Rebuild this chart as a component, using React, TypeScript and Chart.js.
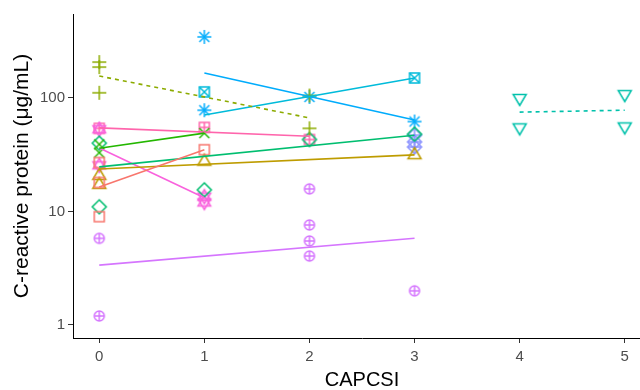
import React, { useEffect, useRef } from "react";
import { Chart, registerables } from "chart.js";
Chart.register(...registerables);

// ---------- data (CAPCSI, C-reactive protein µg/mL) ----------
const xTicks = [0, 1, 2, 3, 4, 5];
const yTicks = [1, 10, 100];

// shape 0: open square
const squareX = [0, 0, 0, 1];
const squareY = [9, 18, 27, 35];
const squareFitX = [0, 1];
const squareFitY = [16.4, 35];

// shape 2: triangle up
const triUpX = [0, 0, 1, 3];
const triUpY = [21, 17.5, 28, 32];
const triUpFitX = [0, 3];
const triUpFitY = [23.7, 31.5];

// shape 3: plus (dashed fit)
const plusX = [0, 0, 0, 2, 2];
const plusY = [207, 187, 111, 105, 54];
const plusFitX = [0, 2];
const plusFitY = [156, 66.7];

// shape 4: cross
const crossX = [0, 0, 1];
const crossY = [33, 39, 49];
const crossFitX = [0, 1];
const crossFitY = [36, 49];

// shape 5: diamond
const diamondX = [0, 0, 1, 2, 3];
const diamondY = [40, 11, 15.5, 43, 48];
const diamondFitX = [0, 3];
const diamondFitY = [24.7, 47];

// shape 6: triangle down (dashed fit)
const triDownX = [4, 4, 5, 5];
const triDownY = [98, 54, 106, 55];
const triDownFitX = [4, 5];
const triDownFitY = [75, 78];

// shape 7: square cross
const sqCrossX = [1, 3];
const sqCrossY = [113, 150];
const sqCrossFitX = [1, 3];
const sqCrossFitY = [70.8, 150];

// shape 8: asterisk
const asteriskX = [1, 1, 2, 3];
const asteriskY = [345, 78, 102, 62];
const asteriskFitX = [1, 3];
const asteriskFitY = [166, 64];

// shape 9: diamond plus
const diaPlusX = [3, 3, 3];
const diaPlusY = [47, 41, 37];

// shape 10: circle plus
const circPlusX = [0, 0, 2, 2, 2, 2, 3];
const circPlusY = [5.8, 1.2, 15.8, 7.6, 5.5, 4.05, 2.0];
const circPlusFitX = [0, 3];
const circPlusFitY = [3.37, 5.8];

// shape 11: star of David
const davidX = [0, 0, 1, 1];
const davidY = [53, 25.5, 13.5, 12];
const davidFitX = [0, 1];
const davidFitY = [36.3, 13.2];

// shape 12: square plus
const sqPlusX = [0, 1, 2];
const sqPlusY = [54, 55, 43];
const sqPlusFitX = [0, 2];
const sqPlusFitY = [54.5, 46];

const FONT = '"Liberation Sans", Arial, sans-serif';

function makeMarker(shape: string, color: string): HTMLCanvasElement {
  const S = 22;
  const c = document.createElement("canvas");
  c.width = S;
  c.height = S;
  const g = c.getContext("2d")!;
  g.strokeStyle = color;
  g.lineWidth = 1.5;
  g.translate(S / 2, S / 2);
  const line = (x1: number, y1: number, x2: number, y2: number) => {
    g.beginPath();
    g.moveTo(x1, y1);
    g.lineTo(x2, y2);
    g.stroke();
  };
  const poly = (pts: number[][]) => {
    g.beginPath();
    g.moveTo(pts[0][0], pts[0][1]);
    for (let i = 1; i < pts.length; i++) g.lineTo(pts[i][0], pts[i][1]);
    g.closePath();
    g.stroke();
  };
  const sq = (h: number) => g.strokeRect(-h, -h, 2 * h, 2 * h);
  const plus = (h: number) => {
    line(-h, 0, h, 0);
    line(0, -h, 0, h);
  };
  const xx = (h: number) => {
    line(-h, -h, h, h);
    line(-h, h, h, -h);
  };
  const triUp = () => poly([[0, -6.5], [6.5, 4.5], [-6.5, 4.5]]);
  const triDown = () => poly([[0, 6.5], [6.5, -4.5], [-6.5, -4.5]]);
  const diamond = () => poly([[0, -7], [7, 0], [0, 7], [-7, 0]]);
  switch (shape) {
    case "square": sq(5); break;
    case "triUp": triUp(); break;
    case "plus": plus(7); break;
    case "cross": xx(5); break;
    case "diamond": diamond(); break;
    case "triDown": triDown(); break;
    case "sqCross": sq(5); xx(5); break;
    case "asterisk": plus(7); xx(5); break;
    case "diaPlus": diamond(); plus(7); break;
    case "circPlus":
      g.beginPath(); g.arc(0, 0, 5, 0, Math.PI * 2); g.stroke(); plus(5); break;
    case "david":
      poly([[0, -7], [6.3, 3.6], [-6.3, 3.6]]);
      poly([[0, 7], [6.3, -3.6], [-6.3, -3.6]]);
      break;
    case "sqPlus": sq(5); plus(5); break;
  }
  return c;
}

const toPts = (xs: number[], ys: number[]) => xs.map((x, i) => ({ x, y: ys[i] }));

export default function App() {
  const ref = useRef<HTMLCanvasElement | null>(null);
  useEffect(() => {
    document.body.style.margin = "0";
    const groups = [
      { shape: "square", color: "#F8766D", x: squareX, y: squareY, fx: squareFitX, fy: squareFitY, dash: false },
      { shape: "triUp", color: "#BE9C00", x: triUpX, y: triUpY, fx: triUpFitX, fy: triUpFitY, dash: false },
      { shape: "plus", color: "#8CAB00", x: plusX, y: plusY, fx: plusFitX, fy: plusFitY, dash: true },
      { shape: "cross", color: "#24B700", x: crossX, y: crossY, fx: crossFitX, fy: crossFitY, dash: false },
      { shape: "diamond", color: "#00BE70", x: diamondX, y: diamondY, fx: diamondFitX, fy: diamondFitY, dash: false },
      { shape: "triDown", color: "#00C1AB", x: triDownX, y: triDownY, fx: triDownFitX, fy: triDownFitY, dash: true },
      { shape: "sqCross", color: "#00BBDA", x: sqCrossX, y: sqCrossY, fx: sqCrossFitX, fy: sqCrossFitY, dash: false },
      { shape: "asterisk", color: "#00ACFC", x: asteriskX, y: asteriskY, fx: asteriskFitX, fy: asteriskFitY, dash: false },
      { shape: "diaPlus", color: "#8B93FF", x: diaPlusX, y: diaPlusY, fx: null, fy: null, dash: false },
      { shape: "circPlus", color: "#D575FE", x: circPlusX, y: circPlusY, fx: circPlusFitX, fy: circPlusFitY, dash: false },
      { shape: "david", color: "#F962DD", x: davidX, y: davidY, fx: davidFitX, fy: davidFitY, dash: false },
      { shape: "sqPlus", color: "#FF65AC", x: sqPlusX, y: sqPlusY, fx: sqPlusFitX, fy: sqPlusFitY, dash: false },
    ];
    const lineSets: any[] = [];
    const pointSets: any[] = [];
    groups.forEach((gr) => {
      if (gr.fx && gr.fy) {
        lineSets.push({
          data: toPts(gr.fx, gr.fy),
          showLine: true,
          borderColor: gr.color,
          borderWidth: 1.6,
          borderDash: gr.dash ? [4, 4] : [],
          pointRadius: 0,
          fill: false,
        });
      }
      pointSets.push({
        data: toPts(gr.x, gr.y),
        showLine: false,
        pointStyle: makeMarker(gr.shape, gr.color),
        pointRadius: 6,
        borderColor: gr.color,
        backgroundColor: "transparent",
      });
    });

    const tickGrid = {
      display: true,
      drawOnChartArea: false,
      drawTicks: true,
      tickLength: 5,
      color: "#333",
      lineWidth: 1,
    };

    const chart = new Chart(ref.current!, {
      type: "scatter",
      data: { datasets: [...lineSets, ...pointSets] },
      options: {
        responsive: false,
        animation: false,
        layout: { padding: { top: 14, right: 0, left: 0, bottom: 0 } },
        plugins: { legend: { display: false }, tooltip: { enabled: false } },
        scales: {
          x: {
            type: "linear",
            min: -0.25,
            max: 5.25,
            afterBuildTicks: (s: any) => {
              s.ticks = xTicks.map((v) => ({ value: v }));
            },
            afterFit: (s: any) => {
              s.height = 52;
            },
            grid: tickGrid,
            border: { display: true, color: "#000", width: 1 },
            ticks: {
              font: { family: FONT, size: 15 },
              color: "#4d4d4d",
              padding: 5,
              maxRotation: 0,
              autoSkip: false,
              callback: (v: any) => String(v),
            },
            title: {
              display: true,
              text: "CAPCSI",
              font: { family: FONT, size: 20 },
              color: "#000",
              padding: { top: 0, bottom: -2 },
            },
          },
          y: {
            type: "logarithmic",
            min: 0.768,
            max: 549,
            afterBuildTicks: (s: any) => {
              s.ticks = yTicks.map((v) => ({ value: v }));
            },
            afterFit: (s: any) => {
              s.width = 73;
            },
            grid: tickGrid,
            border: { display: true, color: "#000", width: 1 },
            ticks: {
              font: { family: FONT, size: 15 },
              color: "#4d4d4d",
              padding: 3,
              autoSkip: false,
              callback: (v: any) => String(v),
            },
            title: {
              display: true,
              text: "C-reactive protein (μg/mL)",
              font: { family: FONT, size: 21 },
              color: "#000",
              padding: { top: 10, bottom: 0 },
            },
          },
        },
      } as any,
    });
    return () => chart.destroy();
  }, []);
  return (
    <div style={{ position: "fixed", left: 0, top: 0, width: 640, height: 390, overflow: "hidden", background: "#fff" }}>
      <canvas ref={ref} width={658} height={390} style={{ display: "block", width: 658, height: 390 }} />
    </div>
  );
}
